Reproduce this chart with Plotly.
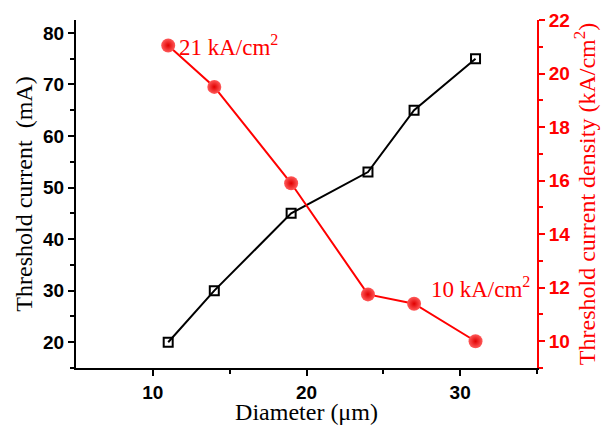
import plotly.graph_objects as go

diameter = [11, 14, 19, 24, 27, 31]
current_mA = [20, 30, 45, 53, 65, 75]
density = [21.05, 19.5, 15.9, 11.75, 11.4, 10.0]

fig = go.Figure()
fig.add_trace(go.Scatter(
    x=diameter, y=current_mA, mode="lines+markers",
    line=dict(color="black", width=2),
    marker=dict(symbol="square-open", size=9, color="black", line=dict(width=2)),
    yaxis="y", showlegend=False))
fig.add_trace(go.Scatter(
    x=diameter, y=density, mode="lines+markers",
    line=dict(color="#ff0000", width=2),
    marker=dict(symbol="circle", size=14, color="#ff5a5a",
                gradient=dict(type="radial", color="#e00000"),
                line=dict(width=0)),
    yaxis="y2", showlegend=False))

tickfont = dict(family="Liberation Sans", size=19, weight="bold")
serif = "Liberation Serif"

fig.update_layout(
    width=608, height=425,
    margin=dict(l=76, r=71, t=20, b=57),
    plot_bgcolor="white", paper_bgcolor="white",
    xaxis=dict(range=[5, 35], showline=True, linecolor="black", linewidth=2,
               automargin=False,
               ticks="outside", ticklen=6, tickwidth=2, tickcolor="black",
               tickvals=[10, 20, 30], showgrid=False, zeroline=False,
               minor=dict(tickvals=[15, 25, 35], ticks="outside", ticklen=4, tickwidth=2, tickcolor="black"),
               tickfont=dict(color="black", **tickfont),
               title=dict(text="Diameter (μm)", font=dict(family=serif, size=24, color="black"), standoff=0)),
    yaxis=dict(range=[15, 82.5], showline=True, linecolor="black", linewidth=2,
               automargin=False,
               ticks="outside", ticklen=6, tickwidth=2, tickcolor="black",
               tickvals=[20, 30, 40, 50, 60, 70, 80], showgrid=False, zeroline=False,
               minor=dict(tickvals=[15, 25, 35, 45, 55, 65, 75], ticks="outside", ticklen=4, tickwidth=2, tickcolor="black"),
               tickfont=dict(color="black", **tickfont),
               title=dict(text="Threshold current  (mA)", font=dict(family=serif, size=24, color="black"), standoff=4)),
    yaxis2=dict(range=[9, 22], overlaying="y", side="right", showline=True,
                linecolor="#ff0000", linewidth=2, automargin=False,
                ticks="outside", ticklen=6, tickwidth=2, tickcolor="#ff0000",
                tickvals=[10, 12, 14, 16, 18, 20, 22], showgrid=False, zeroline=False,
                minor=dict(tickvals=[9, 11, 13, 15, 17, 19, 21], ticks="outside", ticklen=4, tickwidth=2, tickcolor="#ff0000"),
                tickfont=dict(color="#ff0000", **tickfont),
                title=dict(text="Threshold current density (kA/cm<sup>2</sup>)",
                           font=dict(family=serif, size=24, color="#ff0000"), standoff=6)),
    annotations=[
        dict(x=11.6, y=density[0], xref="x", yref="y2", text="21 kA/cm<sup>2</sup>",
             showarrow=False, xanchor="left", yanchor="middle",
             font=dict(family=serif, size=23, color="#ff0000")),
        dict(x=34.7, y=density[4] + 0.6, xref="x", yref="y2", text="10 kA/cm<sup>2</sup>",
             showarrow=False, xanchor="right", yanchor="middle",
             font=dict(family=serif, size=23, color="#ff0000")),
    ],
)

fig.write_html("out.html")
